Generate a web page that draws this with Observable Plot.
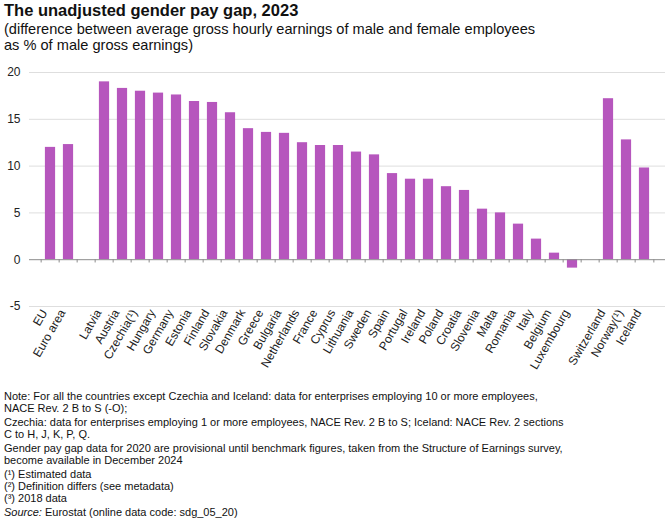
<!DOCTYPE html>
<html>
<head>
<meta charset="utf-8">
<script src="https://cdn.jsdelivr.net/npm/d3@7"></script>
<script src="https://cdn.jsdelivr.net/npm/@observablehq/plot@0.6"></script>
<style>
  body { margin: 0; background: #fff; font-family: "Liberation Sans", Arial, sans-serif; color: #111; }
  #title { font-size: 16.5px; font-weight: bold; line-height: 18px; padding: 1px 0 0 4px; }
  #subtitle { font-size: 14.6px; line-height: 16px; padding: 2px 0 0 4px; }
  #notes { font-size: 11px; line-height: 11.8px; padding: 8px 0 0 4px; }
  #notes p { margin: 0 0 2.5px 0; }
</style>
</head>
<body>
<div id="title">The unadjusted gender pay gap, 2023</div>
<div id="subtitle">(difference between average gross hourly earnings of male and female employees<br>as % of male gross earnings)</div>
<div id="chart"></div>
<div id="notes">
  <p>Note: For all the countries except Czechia and Iceland: data for enterprises employing 10 or more employees,<br>NACE Rev. 2 B to S (-O);</p>
  <p>Czechia: data for enterprises employing 1 or more employees, NACE Rev. 2 B to S; Iceland: NACE Rev. 2 sections<br>C to H, J, K, P, Q.</p>
  <p>Gender pay gap data for 2020 are provisional until benchmark figures, taken from the Structure of Earnings survey,<br>become available in December 2024</p>
  <p>(¹) Estimated data<br>(²) Definition differs (see metadata)<br>(³) 2018 data</p>
  <p><i>Source:</i> Eurostat (online data code: sdg_05_20)</p>
</div>
<script>
// categories, gaps kept as blank keys
const countries = ["EU", "Euro area", " ", "Latvia", "Austria", "Czechia(¹)", "Hungary", "Germany",
  "Estonia", "Finland", "Slovakia", "Denmark", "Greece", "Bulgaria", "Netherlands", "France",
  "Cyprus", "Lithuania", "Sweden", "Spain", "Portugal", "Ireland", "Poland", "Croatia",
  "Slovenia", "Malta", "Romania", "Italy", "Belgium", "Luxembourg", "  ", "Switzerland",
  "Norway(¹)", "Iceland"];
const gap = [12.0, 12.3, null, 19.0, 18.3, 18.0, 17.8, 17.6,
  16.9, 16.8, 15.7, 14.0, 13.6, 13.5, 12.5, 12.2,
  12.2, 11.5, 11.2, 9.2, 8.6, 8.6, 7.8, 7.4,
  5.4, 5.0, 3.8, 2.2, 0.7, -0.9, null, 17.2,
  12.8, 9.8];
const yTicks = [-5, 0, 5, 10, 15, 20];

const data = countries.map((c, i) => ({country: c, value: gap[i]}));
const bars = data.filter(d => d.value != null);

const width = 667;
const height = 330;
const ml = 29, mr = 2;
const step = (width - ml - mr) / countries.length;

const plot = Plot.plot({
  width: width,
  height: height,
  marginTop: 19,
  marginBottom: 77,
  marginLeft: ml,
  marginRight: mr,
  style: {fontFamily: "Liberation Sans, Arial, sans-serif", color: "#222", background: "#fff"},
  x: {domain: countries, padding: 0},
  y: {domain: [-5, 20]},
  marks: [
    Plot.gridY(yTicks.filter(d => d !== 0), {stroke: "#dedede", strokeOpacity: 1}),
    Plot.axisY(yTicks, {tickSize: 0, tickPadding: 9, fontSize: 12, label: null, tickFormat: d => String(d)}),
    Plot.axisX({tickSize: 0, tickPadding: 4, tickRotate: -60, fontSize: 12, dx: -6, label: null, anchor: "bottom"}),
    Plot.barY(bars, {x: "country", y: "value", fill: "#b656bd", insetLeft: 3.9, insetRight: 3.9}),
    Plot.ruleY([0], {stroke: "#8c8c8c"}),
    // small ticks on the zero line at band edges
    Plot.ruleX(countries, {x: d => d, y1: 0, y2: -0.35, dx: -step / 2, stroke: "#8c8c8c"}),
    Plot.ruleX([countries[countries.length - 1]], {x: d => d, y1: 0, y2: -0.35, dx: step / 2, stroke: "#8c8c8c"})
  ]
});

document.getElementById("chart").append(plot);
</script>
</body>
</html>
